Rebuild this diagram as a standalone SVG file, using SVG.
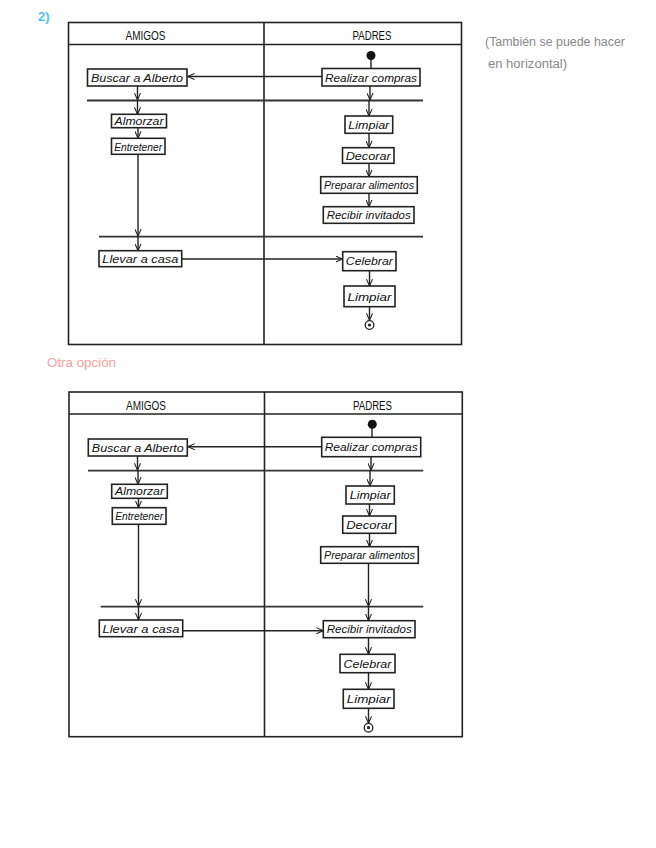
<svg xmlns="http://www.w3.org/2000/svg" width="656" height="848" viewBox="0 0 656 848">
<defs>
<marker id="v" viewBox="0 0 8 8" refX="8" refY="4" markerWidth="7" markerHeight="7" markerUnits="userSpaceOnUse" orient="auto">
<path d="M0,0.5 L8,4 L0,7.5" fill="none" stroke="#222" stroke-width="1.2"/>
</marker>
<style>
.frame{fill:none;stroke:#222;stroke-width:1.6}
.bar{stroke:#333;stroke-width:1.8}
.box{fill:#fff;stroke:#222;stroke-width:1.6}
.t{font-family:"Liberation Sans",Arial,sans-serif;font-size:11px;fill:#111;font-style:italic}
.h{font-family:"Liberation Sans",Arial,sans-serif;font-size:12px;fill:#111}
.c line,.c path{stroke:#222;stroke-width:1.4;fill:none;marker-end:url(#v)}
.c .p{marker-end:none}
</style>
</defs>
<rect width="656" height="848" fill="#fff"/>

<text x="38" y="21" font-family="Liberation Sans,sans-serif" font-size="13" font-weight="bold" fill="#4dc6f5">2)</text>
<text x="485" y="46" font-family="Liberation Sans,sans-serif" font-size="12" fill="#888" textLength="140" lengthAdjust="spacingAndGlyphs">(También se puede hacer</text>
<text x="488" y="68" font-family="Liberation Sans,sans-serif" font-size="12" fill="#888" textLength="79" lengthAdjust="spacingAndGlyphs">en horizontal)</text>
<text x="47" y="367" font-family="Liberation Sans,sans-serif" font-size="13" fill="#f4a0a0" textLength="69" lengthAdjust="spacingAndGlyphs">Otra opción</text>

<!-- Diagram 1 -->
<g id="lanes1">
<rect class="frame" x="68.5" y="22.5" width="393" height="322"/>
<line class="frame" x1="68.5" y1="44.5" x2="461.5" y2="44.5"/>
<line class="frame" x1="264" y1="22.5" x2="264" y2="344.5"/>
<text class="h" x="145.5" y="40" text-anchor="middle" textLength="40" lengthAdjust="spacingAndGlyphs">AMIGOS</text>
<text class="h" x="372" y="40" text-anchor="middle" textLength="39" lengthAdjust="spacingAndGlyphs">PADRES</text>
</g>
<g id="fork1"><line class="bar" x1="87" y1="100.5" x2="423" y2="100.5"/></g>
<g id="join1"><line class="bar" x1="99" y1="236.7" x2="423" y2="236.7"/></g>

<g class="c" id="connectors1">
<line class="p" x1="371" y1="56" x2="371" y2="68.5"/>
<line x1="370" y1="86" x2="370" y2="100"/>
<line x1="369" y1="100.5" x2="369" y2="116"/>
<line x1="322" y1="76.5" x2="187.5" y2="76.5"/>
<line x1="137.5" y1="86" x2="137.5" y2="100"/>
<line x1="137.5" y1="100.5" x2="137.5" y2="114.3"/>
<line x1="138" y1="127.7" x2="138" y2="138.3"/>
<line x1="138" y1="154.3" x2="138" y2="236.2"/>
<line x1="138" y1="236.7" x2="138" y2="250.7"/>
<line x1="182" y1="259" x2="342.5" y2="259"/>
<line x1="369" y1="133.3" x2="369" y2="147.7"/>
<line x1="369" y1="163.3" x2="369" y2="176.7"/>
<line x1="369" y1="193.3" x2="369" y2="206.7"/>
<line x1="369.5" y1="270.7" x2="369.5" y2="286"/>
<line x1="369.5" y1="306.7" x2="369.5" y2="320.3"/>
</g>

<g id="start1"><circle cx="371" cy="55.5" r="4.5" fill="#111"/></g>
<g id="n1_buscar"><rect class="box" x="87.5" y="69" width="99.5" height="17"/><text class="t" x="137" y="81.5" text-anchor="middle" textLength="92" lengthAdjust="spacingAndGlyphs">Buscar a Alberto</text></g>
<g id="n1_almorzar"><rect class="box" x="111.5" y="114.3" width="55" height="13.4"/><text class="t" x="139" y="125" text-anchor="middle" textLength="49" lengthAdjust="spacingAndGlyphs">Almorzar</text></g>
<g id="n1_entretener"><rect class="box" x="111.5" y="138.3" width="53.5" height="16"/><text class="t" x="138.2" y="150.5" text-anchor="middle" textLength="48" lengthAdjust="spacingAndGlyphs">Entretener</text></g>
<g id="n1_llevar"><rect class="box" x="99" y="250.7" width="82.7" height="16"/><text class="t" x="140.3" y="263" text-anchor="middle" textLength="76" lengthAdjust="spacingAndGlyphs">Llevar a casa</text></g>
<g id="n1_realizar"><rect class="box" x="322" y="68.5" width="98" height="17.5"/><text class="t" x="371" y="81.5" text-anchor="middle" textLength="92" lengthAdjust="spacingAndGlyphs">Realizar compras</text></g>
<g id="n1_limpiar"><rect class="box" x="345" y="116" width="47.7" height="17.3"/><text class="t" x="368.8" y="128.8" text-anchor="middle" textLength="41" lengthAdjust="spacingAndGlyphs">Limpiar</text></g>
<g id="n1_decorar"><rect class="box" x="342.5" y="147.7" width="51.5" height="15.6"/><text class="t" x="368.2" y="159.8" text-anchor="middle" textLength="45" lengthAdjust="spacingAndGlyphs">Decorar</text></g>
<g id="n1_preparar"><rect class="box" x="320.7" y="176.7" width="96.6" height="16.6"/><text class="t" x="369" y="189" text-anchor="middle" textLength="90" lengthAdjust="spacingAndGlyphs">Preparar alimentos</text></g>
<g id="n1_recibir"><rect class="box" x="323.3" y="206.7" width="90.7" height="16.6"/><text class="t" x="368.7" y="219" text-anchor="middle" textLength="84" lengthAdjust="spacingAndGlyphs">Recibir invitados</text></g>
<g id="n1_celebrar"><rect class="box" x="342.7" y="251.7" width="53.3" height="19"/><text class="t" x="369.3" y="265.3" text-anchor="middle" textLength="47" lengthAdjust="spacingAndGlyphs">Celebrar</text></g>
<g id="n1_limpiar2"><rect class="box" x="344" y="286" width="51" height="20.7"/><text class="t" x="369.5" y="300.5" text-anchor="middle" textLength="44" lengthAdjust="spacingAndGlyphs">Limpiar</text></g>
<g id="end1"><circle cx="369.5" cy="325" r="4.3" fill="#fff" stroke="#222" stroke-width="1.3"/><circle cx="369.5" cy="325" r="1.6" fill="#222"/></g>

<!-- Diagram 2 -->
<g id="lanes2">
<rect class="frame" x="69" y="392" width="393.3" height="344.7"/>
<line class="frame" x1="69" y1="414" x2="462.3" y2="414"/>
<line class="frame" x1="264.5" y1="392" x2="264.5" y2="736.7"/>
<text class="h" x="146" y="410" text-anchor="middle" textLength="40" lengthAdjust="spacingAndGlyphs">AMIGOS</text>
<text class="h" x="372.5" y="410" text-anchor="middle" textLength="39" lengthAdjust="spacingAndGlyphs">PADRES</text>
</g>
<g id="fork2"><line class="bar" x1="88" y1="470.7" x2="423.3" y2="470.7"/></g>
<g id="join2"><line class="bar" x1="100.7" y1="606.7" x2="423.3" y2="606.7"/></g>

<g class="c" id="connectors2">
<line class="p" x1="372" y1="425" x2="372" y2="437.3"/>
<line x1="371" y1="456.7" x2="371" y2="470.2"/>
<line x1="370" y1="470.7" x2="370" y2="486"/>
<line x1="321.7" y1="446.7" x2="187.8" y2="446.7"/>
<line x1="137.5" y1="456" x2="137.5" y2="470.2"/>
<line x1="138" y1="470.7" x2="138" y2="484.3"/>
<line x1="138.5" y1="498.3" x2="138.5" y2="507.7"/>
<line x1="138.5" y1="524.3" x2="138.5" y2="606.2"/>
<line x1="138.5" y1="606.7" x2="138.5" y2="620"/>
<line x1="369.5" y1="504" x2="369.5" y2="516"/>
<line x1="369.5" y1="533.3" x2="369.5" y2="546.7"/>
<line x1="368.5" y1="563.3" x2="368.5" y2="606.2"/>
<line x1="368.5" y1="606.7" x2="368.5" y2="620.7"/>
<line x1="182.7" y1="630.7" x2="323.3" y2="630.7"/>
<line x1="368.5" y1="637.7" x2="368.5" y2="654.3"/>
<line x1="368.5" y1="672.7" x2="368.5" y2="689.3"/>
<line x1="368.5" y1="708.3" x2="368.5" y2="723.2"/>
</g>

<g id="start2"><circle cx="372.3" cy="424.3" r="4.5" fill="#111"/></g>
<g id="n2_buscar"><rect class="box" x="88.3" y="439" width="99" height="17"/><text class="t" x="137.8" y="451.5" text-anchor="middle" textLength="92" lengthAdjust="spacingAndGlyphs">Buscar a Alberto</text></g>
<g id="n2_almorzar"><rect class="box" x="111.7" y="484.3" width="55.6" height="14"/><text class="t" x="139.5" y="495.3" text-anchor="middle" textLength="49" lengthAdjust="spacingAndGlyphs">Almorzar</text></g>
<g id="n2_entretener"><rect class="box" x="112.3" y="507.7" width="53.7" height="16.6"/><text class="t" x="139.2" y="520" text-anchor="middle" textLength="48" lengthAdjust="spacingAndGlyphs">Entretener</text></g>
<g id="n2_llevar"><rect class="box" x="99.3" y="620" width="83.4" height="16.7"/><text class="t" x="141" y="632.5" text-anchor="middle" textLength="77" lengthAdjust="spacingAndGlyphs">Llevar a casa</text></g>
<g id="n2_realizar"><rect class="box" x="321.7" y="437.3" width="99" height="19.4"/><text class="t" x="371.2" y="451" text-anchor="middle" textLength="93" lengthAdjust="spacingAndGlyphs">Realizar compras</text></g>
<g id="n2_limpiar"><rect class="box" x="346" y="486" width="48.3" height="18"/><text class="t" x="370.2" y="499" text-anchor="middle" textLength="41" lengthAdjust="spacingAndGlyphs">Limpiar</text></g>
<g id="n2_decorar"><rect class="box" x="342.7" y="516" width="53" height="17.3"/><text class="t" x="369.2" y="528.8" text-anchor="middle" textLength="46" lengthAdjust="spacingAndGlyphs">Decorar</text></g>
<g id="n2_preparar"><rect class="box" x="320.7" y="546.7" width="97.6" height="16.6"/><text class="t" x="369.5" y="559" text-anchor="middle" textLength="91" lengthAdjust="spacingAndGlyphs">Preparar alimentos</text></g>
<g id="n2_recibir"><rect class="box" x="323.3" y="620.7" width="91.7" height="17"/><text class="t" x="369.2" y="633.2" text-anchor="middle" textLength="85" lengthAdjust="spacingAndGlyphs">Recibir invitados</text></g>
<g id="n2_celebrar"><rect class="box" x="340" y="654.3" width="55" height="18.4"/><text class="t" x="367.5" y="667.5" text-anchor="middle" textLength="48" lengthAdjust="spacingAndGlyphs">Celebrar</text></g>
<g id="n2_limpiar2"><rect class="box" x="343.3" y="689.3" width="50.7" height="19"/><text class="t" x="368.7" y="703" text-anchor="middle" textLength="44" lengthAdjust="spacingAndGlyphs">Limpiar</text></g>
<g id="end2"><circle cx="368.5" cy="727.7" r="4.3" fill="#fff" stroke="#222" stroke-width="1.3"/><circle cx="368.5" cy="727.7" r="1.6" fill="#222"/></g>
</svg>
